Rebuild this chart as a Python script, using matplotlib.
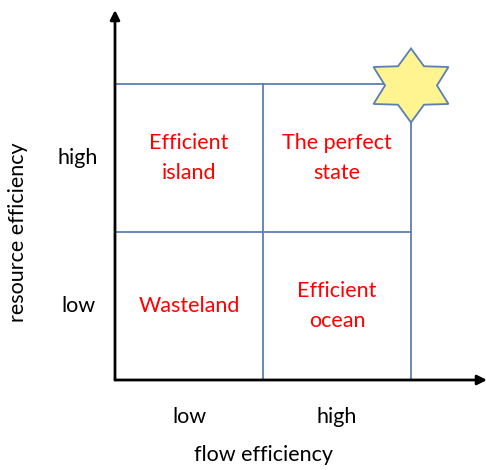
import matplotlib.pyplot as plt
import numpy as np
from matplotlib.patches import Polygon

plt.rcParams['font.family'] = ['Lato', 'DejaVu Sans']

# data
x_levels = ['low', 'high']
y_levels = ['low', 'high']
quadrants = {
    (0, 1): 'Efficient\nisland',
    (1, 1): 'The perfect\nstate',
    (0, 0): 'Wasteland',
    (1, 0): 'Efficient\nocean',
}
x_label = 'flow efficiency'
y_label = 'resource efficiency'

grid_color = '#5a7fb5'
text_red = '#ff0000'

fig = plt.figure(figsize=(4.86, 4.70), dpi=100)
ax = fig.add_axes([115 / 486, 90 / 470, 372 / 486, 370 / 470])
ax.set_xlim(0, 372 / 148)
ax.set_ylim(0, 370 / 148)
ax.axis('off')

# grid of the 2x2 matrix
n = len(x_levels)
for i in range(1, n + 1):
    ax.plot([i, i], [0, n], color=grid_color, lw=1.3, zorder=1)
    ax.plot([0, n], [i, i], color=grid_color, lw=1.3, zorder=1)

# axes with arrows
ax.annotate('', xy=(372 / 148, 0), xytext=(0, 0),
            arrowprops=dict(arrowstyle='-|>', color='black', lw=2,
                            mutation_scale=14, shrinkA=0, shrinkB=0), zorder=3)
ax.annotate('', xy=(0, 370 / 148), xytext=(0, 0),
            arrowprops=dict(arrowstyle='-|>', color='black', lw=2,
                            mutation_scale=14, shrinkA=0, shrinkB=0), zorder=3)

# star at the perfect corner
R, r = 0.25, 0.15
ang = np.pi / 2 + np.arange(12) * np.pi / 6
rad = np.where(np.arange(12) % 2 == 0, R, r)
pts = np.column_stack([n + 1.17 * rad * np.cos(ang), n - 0.01 + rad * np.sin(ang)])
ax.add_patch(Polygon(pts, closed=True, facecolor='#fff48f',
                     edgecolor=grid_color, lw=1.3, zorder=4))

# quadrant labels
for (i, j), txt in quadrants.items():
    ax.text(i + 0.5, j + 0.5, txt, color=text_red, fontsize=15.5,
            ha='center', va='center', linespacing=1.6)

# level labels
for i, lab in enumerate(x_levels):
    ax.text(i + 0.5, -37 / 148, lab, fontsize=15.5, ha='center', va='center',
            clip_on=False)
for j, lab in enumerate(y_levels):
    ax.text(-37 / 148, j + 0.5, lab, fontsize=15.5, ha='center', va='center',
            clip_on=False)

ax.text(1.0, -75 / 148, x_label, fontsize=15.5, ha='center', va='center',
        clip_on=False)
ax.text(-97 / 148, 1.0, y_label, fontsize=15.5, ha='center', va='center',
        rotation=90, clip_on=False)

fig.savefig('out.png', dpi=100)
